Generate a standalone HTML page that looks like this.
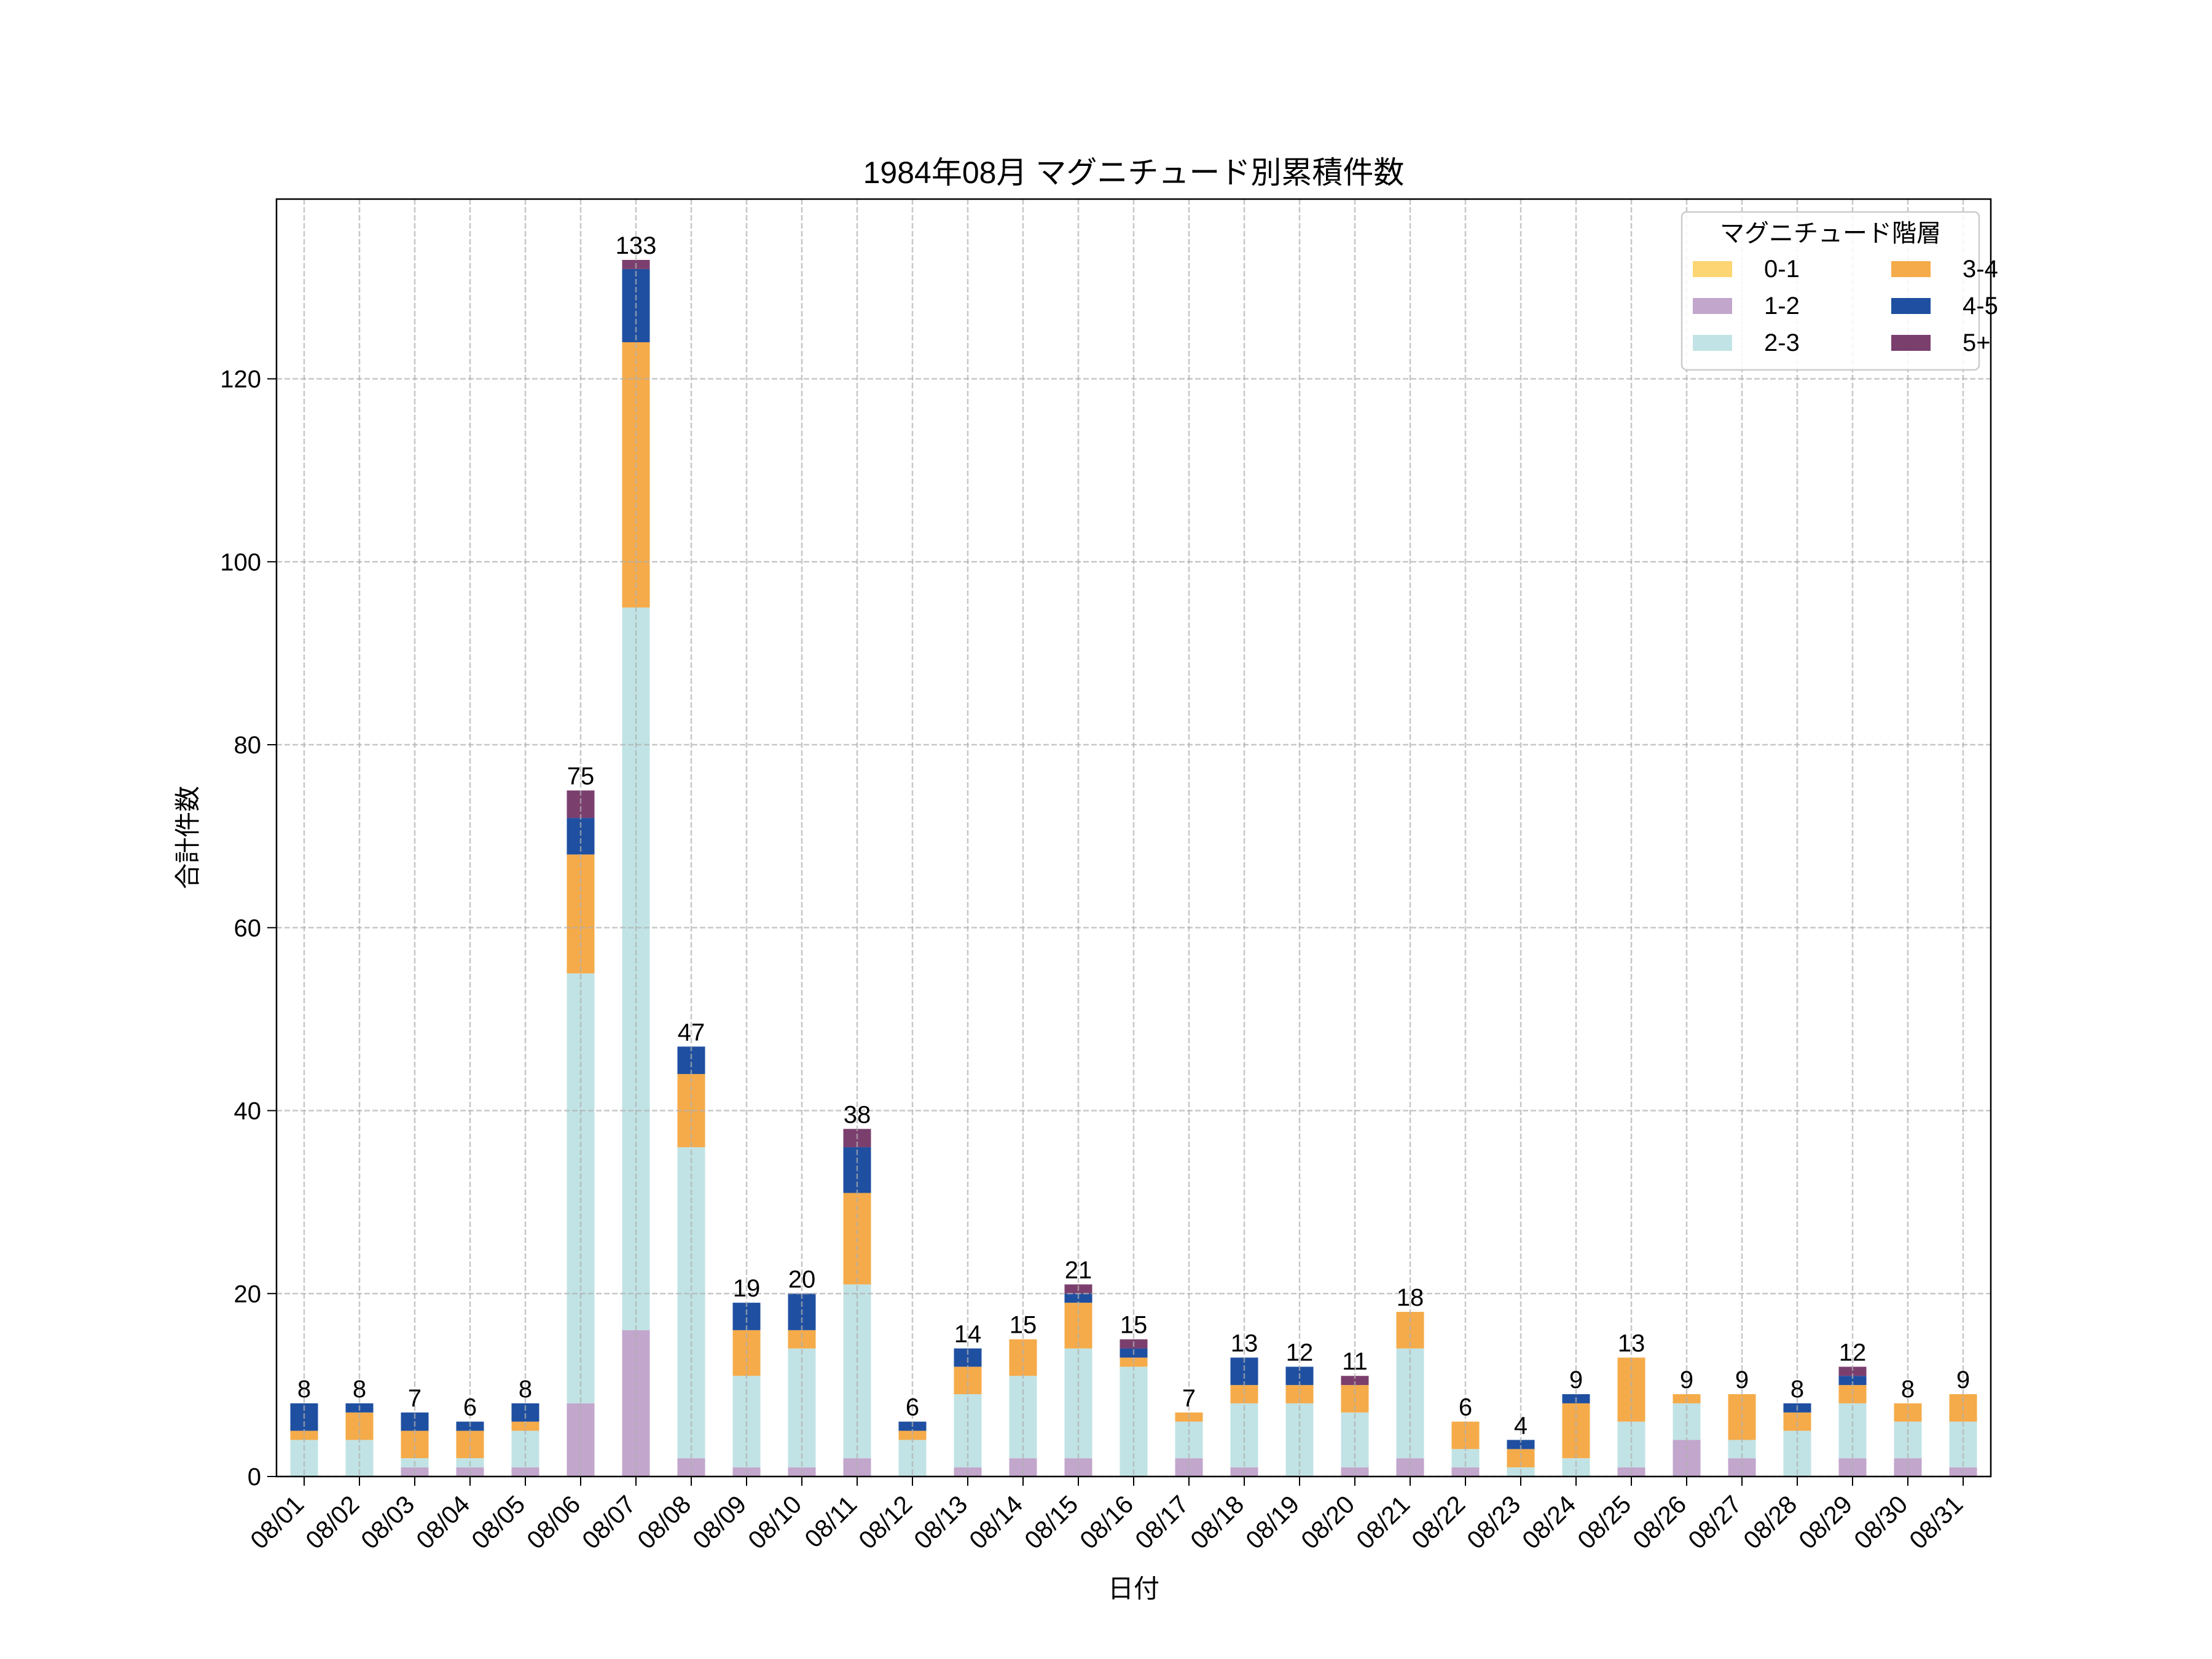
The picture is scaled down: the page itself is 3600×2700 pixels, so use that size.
<!DOCTYPE html>
<html><head><meta charset="utf-8"><style>
html,body{margin:0;padding:0;background:#fff}
svg{display:block;font-family:"Liberation Sans","Noto Sans CJK JP",sans-serif}
</style></head><body>
<svg id="chart" width="3600" height="2700" viewBox="0 0 3600 2700" xmlns="http://www.w3.org/2000/svg">
<rect width="3600" height="2700" fill="#fff"/>
<g id="bars"></g>
<g id="grid"></g>
<g id="labels"></g>
<g id="axes"></g>
<text x="1845" y="298" font-size="50" text-anchor="middle">1984年08月 マグニチュード別累積件数</text>
<text x="1845" y="2600" font-size="42" text-anchor="middle">日付</text>
<text transform="translate(320,1363) rotate(-90)" font-size="42" text-anchor="middle">合計件数</text>
<g id="legend"></g>
</svg>
<script>
const categories = ["08/01","08/02","08/03","08/04","08/05","08/06","08/07","08/08","08/09","08/10","08/11","08/12","08/13","08/14","08/15","08/16","08/17","08/18","08/19","08/20","08/21","08/22","08/23","08/24","08/25","08/26","08/27","08/28","08/29","08/30","08/31"];
const seriesNames = ["0-1","1-2","2-3","3-4","4-5","5+"];
const m01 = [0,0,0,0,0,0,0,0,0,0,0,0,0,0,0,0,0,0,0,0,0,0,0,0,0,0,0,0,0,0,0];
const m12 = [0,0,1,1,1,8,16,2,1,1,2,0,1,2,2,0,2,1,0,1,2,1,0,0,1,4,2,0,2,2,1];
const m23 = [4,4,1,1,4,47,79,34,10,13,19,4,8,9,12,12,4,7,8,6,12,2,1,2,5,4,2,5,6,4,5];
const m34 = [1,3,3,3,1,13,29,8,5,2,10,1,3,4,5,1,1,2,2,3,4,3,2,6,7,1,5,2,2,2,3];
const m45 = [3,1,2,1,2,4,8,3,3,4,5,1,2,0,1,1,0,3,2,0,0,0,1,1,0,0,0,1,1,0,0];
const m5p = [0,0,0,0,0,3,1,0,0,0,2,0,0,0,1,1,0,0,0,1,0,0,0,0,0,0,0,0,1,0,0];
const yTicks = [0,20,40,60,80,100,120];
const colors = ["#fdd572","#c2a6cc","#c1e3e5","#f5ab4a","#1f4fa0","#7b3f6e"];
const series = [m01,m12,m23,m34,m45,m5p];
const NS="http://www.w3.org/2000/svg";
const X0=450,X1=3240,YT=324,YB=2403;
const totals = categories.map((c,i)=>series.reduce((s,a)=>s+a[i],0));
const yMax = Math.max(...totals)*1.05;
const xs = i => X0 + (i+0.5)/categories.length*(X1-X0);
const ys = v => YB - v/yMax*(YB-YT);
const bw = 0.5*(X1-X0)/categories.length;
function mk(tag,attrs,parent){const e=document.createElementNS(NS,tag);for(const k in attrs)e.setAttribute(k,attrs[k]);parent.appendChild(e);return e;}
const gB=document.getElementById('bars'),gG=document.getElementById('grid'),gL=document.getElementById('labels'),gA=document.getElementById('axes'),gLeg=document.getElementById('legend');
categories.forEach((c,i)=>{
  let base=0;
  series.forEach((arr,s)=>{
    const v=arr[i]; if(v<=0)return;
    const r=mk('rect',{x:xs(i)-bw/2,y:ys(base+v),width:bw,height:ys(base)-ys(base+v),fill:colors[s]},gB);
    
    
    base+=v;
  });
  const t=mk('text',{x:xs(i),y:ys(totals[i])-10,'font-size':40,'text-anchor':'middle'},gL);
  t.textContent=totals[i];
  
  
  const gl=mk('line',{x1:xs(i),x2:xs(i),y1:YT,y2:YB,stroke:'#b0b0b0','stroke-width':2.5,'stroke-dasharray':'9,4','opacity':0.7},gG);
  
  
  mk('line',{x1:xs(i),x2:xs(i),y1:YB,y2:YB+15,stroke:'#000','stroke-width':2},gA);
  const tl=mk('text',{'font-size':41,'text-anchor':'end',transform:`translate(${xs(i)+2},${YB+48}) rotate(-45)`},gA);
  tl.textContent=c;
  
  
});
yTicks.forEach(v=>{
  const gl=mk('line',{x1:X0,x2:X1,y1:ys(v),y2:ys(v),stroke:'#b0b0b0','stroke-width':2.5,'stroke-dasharray':'9,4','opacity':0.7},gG);
  
  
  mk('line',{x1:X0-15,x2:X0,y1:ys(v),y2:ys(v),stroke:'#000','stroke-width':2},gA);
  const t=mk('text',{x:X0-25,y:ys(v)+14,'font-size':40,'text-anchor':'end'},gA);
  t.textContent=v;
  
  
});
const frame=mk('rect',{x:X0,y:YT,width:X1-X0,height:YB-YT,fill:'none',stroke:'#000','stroke-width':2.5},gA);


const lb=mk('rect',{x:2737,y:345,width:484,height:257,rx:8,fill:'#fff','fill-opacity':0.85,stroke:'#ccc','stroke-width':2.5},gLeg);


const lt=mk('text',{x:2979,y:393,'font-size':40,'text-anchor':'middle'},gLeg);
lt.textContent='マグニチュード階層';


seriesNames.forEach((n,s)=>{
  const col=Math.floor(s/3),row=s%3;
  const px=col?3078:2755, py=425+row*60;
  const p=mk('rect',{x:px,y:py,width:64,height:26,fill:colors[s]},gLeg);
  
  
  const t=mk('text',{x:px+116,y:py+26,'font-size':40},gLeg);
  t.textContent=n;
  
  
});
</script>
</body></html>
